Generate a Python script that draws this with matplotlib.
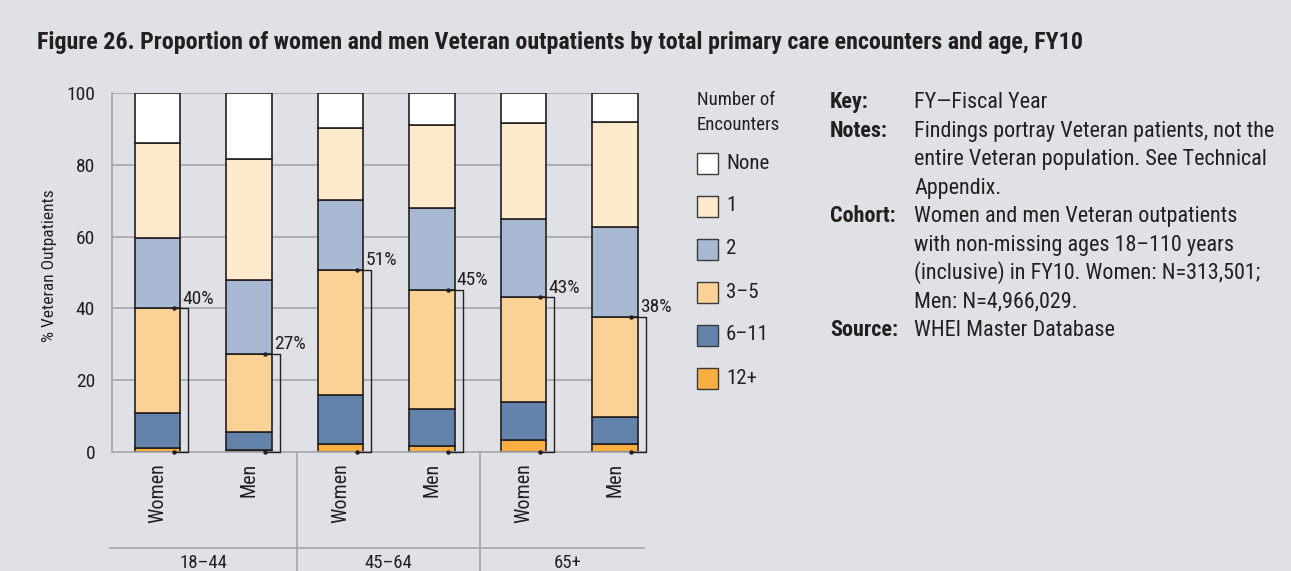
"""
Figure 26: stacked bars of primary care encounters by sex and age group, FY10
"""

import matplotlib
matplotlib.use('Agg')
import matplotlib.pyplot as plt
import matplotlib.font_manager as fm
import numpy as np
from matplotlib.lines import Line2D
from matplotlib.patches import Rectangle

# ---- data (percent of outpatients), bars ordered Women/Men within each age group
age_groups = ['18–44', '45–64', '65+']
bar_labels = ['Women', 'Men', 'Women', 'Men', 'Women', 'Men']

enc_12plus = [1.1, 0.6, 2.2, 1.8, 3.3, 2.2]
enc_6_11 = [9.9, 5.1, 13.8, 10.3, 10.6, 7.7]
enc_3_5 = [29.0, 21.6, 34.8, 33.1, 29.2, 27.7]
enc_2 = [19.5, 20.7, 19.4, 22.7, 21.9, 25.0]
enc_1 = [26.5, 33.5, 19.9, 23.0, 26.5, 29.2]
enc_none = [14.0, 18.5, 9.9, 9.1, 8.5, 8.2]

three_plus_labels = ['40%', '27%', '51%', '45%', '43%', '38%']

legend_labels = ['None', '1', '2', '3–5', '6–11', '12+']

title = ('Figure 26. Proportion of women and men Veteran outpatients '
         'by total primary care encounters and age, FY10')

notes = [
    ('Key:', ['FY—Fiscal Year']),
    ('Notes:', ['Findings portray Veteran patients, not the',
                'entire Veteran population. See Technical',
                'Appendix.']),
    ('Cohort:', ['Women and men Veteran outpatients',
                 'with non-missing ages 18–110 years',
                 '(inclusive) in FY10. Women: N=313,501;',
                 'Men: N=4,966,029.']),
    ('Source:', ['WHEI Master Database']),
]

# ---- style
BG = '#dfe1e6'
GRID = '#a3a6ab'
EDGE = '#231f20'
TXT = '#231f20'
colors = {
    'None': '#ffffff',
    '1': '#fde9cc',
    '2': '#a9b8d3',
    '3–5': '#fad296',
    '6–11': '#6483ab',
    '12+': '#f8ae40',
}

# pick a narrow / condensed sans if one is installed
avail = {f.name for f in fm.fontManager.ttflist}
prefs = ['Liberation Sans Narrow', 'Roboto Condensed', 'Open Sans Condensed',
         'Noto Sans Condensed', 'DejaVu Sans Condensed', 'Arial Narrow']
family = next((p for p in prefs if p in avail), None)
if family is None:
    others = sorted(n for n in avail if 'Narrow' in n or 'Condensed' in n)
    family = others[0] if others else 'Roboto'
plt.rcParams['font.family'] = [family, 'DejaVu Sans']

W, H = 1291, 571
fig = plt.figure(figsize=(W / 100, H / 100), dpi=100, facecolor=BG)
renderer = fig.canvas.get_renderer()


def fx(x):
    return x / W


def fy(y):
    return 1 - y / H


def fit_size(s, target_px, **kw):
    """font size that makes string s about target_px long"""
    t = fig.text(0, 0, s, fontsize=10, **kw)
    w = t.get_window_extent(renderer).width
    t.remove()
    return 10 * target_px / w


# long texts are fitted to their width in the reference, short labels by eye
title_fs = fit_size(title, 1043, fontweight='bold')
note_fs = fit_size('Findings portray Veteran patients, not the', 358)
head_fs = note_fs
tick_fs = 14
pct_fs = 14
leg_fs = 15
legt_fs = 13.5
bar_fs = 14.5
grp_fs = 13.5
ylab_fs = 12.5

# axes placed in pixel terms
ax_l, ax_r, ax_t, ax_b = 111.7, 645.7, 92.7, 452.3
ax = fig.add_axes([fx(ax_l), fy(ax_b), fx(ax_r - ax_l), (ax_b - ax_t) / H])
ax.set_facecolor(BG)

x = np.arange(len(bar_labels))
width = 0.5

# grid lines (behind the bars)
ax.hlines([20, 40, 60, 80, 100], -0.5, x[-1], color=GRID, lw=1.2, zorder=0)

stack = [('12+', enc_12plus), ('6–11', enc_6_11), ('3–5', enc_3_5),
         ('2', enc_2), ('1', enc_1), ('None', enc_none)]
bottom = np.zeros(len(x))
for name, vals in stack:
    ax.bar(x, vals, width, bottom=bottom, color=colors[name],
           edgecolor=EDGE, linewidth=1.2, zorder=2)
    bottom += np.array(vals)

# brackets showing 3+ encounters share
top3 = np.array(enc_12plus) + np.array(enc_6_11) + np.array(enc_3_5)
for i, t in enumerate(top3):
    xr = x[i] + width / 2
    xin = xr - 0.073
    xout = xr + 0.085
    ax.plot([xin, xout, xout, xin], [t, t, 0, 0], color=EDGE, lw=1.0,
            zorder=3, clip_on=False)
    ax.plot([xin, xin], [t, 0], 'o', color=EDGE, ms=2.2, zorder=4,
            clip_on=False)
    ax.text(xr + 0.02, t + 0.2, three_plus_labels[i], fontsize=pct_fs,
            color=TXT, ha='left', va='bottom', zorder=4)

ax.set_xlim(-0.5, (ax_r - ax_l) / 91.5 - 0.5)
ax.set_ylim(0, 100)
ax.set_yticks([0, 20, 40, 60, 80, 100])
ax.tick_params(axis='y', length=0, pad=12, labelsize=tick_fs, labelcolor=TXT)
ax.set_xticks([])
for side in ['top', 'right']:
    ax.spines[side].set_visible(False)
for side in ['left', 'bottom']:
    ax.spines[side].set_color(GRID)
    ax.spines[side].set_linewidth(1.2)

fig.text(fx(50), fy(266), '% Veteran Outpatients', rotation=90, ha='center',
         va='center', fontsize=ylab_fs, color=TXT)

# rotated bar labels under each bar
for i, lab in enumerate(bar_labels):
    ax.text(x[i], -3, lab, rotation=90, ha='center', va='top',
            fontsize=bar_fs, color=TXT, clip_on=False)

# age group separators and labels
for xp in [297, 480]:
    fig.add_artist(Line2D([fx(xp), fx(xp)], [fy(ax_b), fy(H)], color=GRID, lw=1.2))
fig.add_artist(Line2D([fx(110), fx(644)], [fy(548), fy(548)], color=GRID, lw=1.2))
for cx, g in zip([203.5, 388.5, 568], age_groups):
    fig.text(fx(cx), fy(563), g, ha='center', va='center', fontsize=grp_fs, color=TXT)

# legend
fig.text(fx(697), fy(100), 'Number of', ha='left', va='center',
         fontsize=legt_fs, color=TXT)
fig.text(fx(697), fy(125), 'Encounters', ha='left', va='center',
         fontsize=legt_fs, color=TXT)
for i, lab in enumerate(legend_labels):
    cy = 163 + 43 * i
    fig.add_artist(Rectangle((fx(697), fy(cy + 11)), fx(21), 21 / H,
                             facecolor=colors[lab], edgecolor='#3a3a3a', lw=1.0))
    fig.text(fx(726), fy(cy), lab, ha='left', va='center', fontsize=leg_fs, color=TXT)

# title
fig.text(fx(37), fy(43), title, ha='left', va='center', fontsize=title_fs,
         fontweight='bold', color=TXT)

# notes block
line = 0
for head, body in notes:
    fig.text(fx(830), fy(108.3 + 28.5 * line), head, ha='left', va='baseline',
             fontsize=head_fs, fontweight='bold', color=TXT)
    for b in body:
        fig.text(fx(914), fy(108.3 + 28.5 * line), b, ha='left', va='baseline',
                 fontsize=note_fs, color=TXT)
        line += 1

fig.savefig('out.png', dpi=100, facecolor=BG)
